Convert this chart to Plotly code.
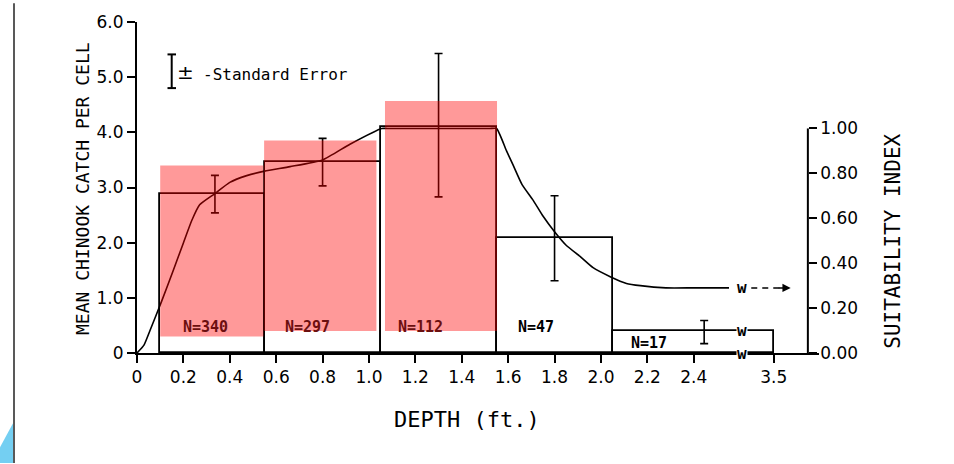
import plotly.graph_objects as go

# ---------------- data ----------------
depth_edges = [0.10, 0.55, 1.05, 1.55, 2.05, 3.5]          # ft (last bin runs to 3.5, broken axis)
mean_catch = [2.89, 3.46, 4.09, 2.08, 0.40]                 # mean chinook catch per cell
n_labels = ["N=340", "N=297", "N=112", "N=47", "N=17"]

se_depth = [0.336, 0.80, 1.30, 1.80, 2.445]
se_center = [2.88, 3.46, 4.13, 2.08, 0.38]
se_value = [0.34, 0.43, 1.30, 0.77, 0.21]

suit_depth = [0, 0.03, 0.056, 0.106, 0.157, 0.20, 0.236, 0.27, 0.336, 0.40, 0.473,
              0.55, 0.66, 0.80, 0.918, 1.055, 1.08, 1.30, 1.52, 1.55, 1.593, 1.62, 1.66,
              1.708, 1.75, 1.80, 1.85, 1.91, 1.966, 2.04, 2.11, 2.17, 2.28, 2.40, 2.56]
suit_index = [0, 0.035, 0.10, 0.23, 0.37, 0.49, 0.59, 0.66, 0.71, 0.76, 0.79,
              0.81, 0.83, 0.86, 0.93, 1.00, 1.00, 1.00, 1.00, 1.00, 0.90, 0.84, 0.75,
              0.68, 0.61, 0.54, 0.48, 0.43, 0.38, 0.34, 0.31, 0.30, 0.29, 0.29, 0.29]

x_tick_depths = [0, 0.2, 0.4, 0.6, 0.8, 1.0, 1.2, 1.4, 1.6, 1.8, 2.0, 2.2, 2.4, 3.5]
x_tick_text = ["0", "0.2", "0.4", "0.6", "0.8", "1.0", "1.2", "1.4", "1.6", "1.8",
               "2.0", "2.2", "2.4", "3.5"]
y_tick_vals = [0, 1, 2, 3, 4, 5, 6]
y_tick_text = ["0", "1.0", "2.0", "3.0", "4.0", "5.0", "6.0"]
y2_tick_vals = [0, 0.2, 0.4, 0.6, 0.8, 1.0]
y2_tick_text = ["0.00", "0.20", "0.40", "0.60", "0.80", "1.00"]

# highlighted (red) regions: [x0, x1, y0, y1] in depth / catch units
highlights = [[0.10, 0.545, 0.30, 3.40],
              [0.548, 1.032, 0.40, 3.85],
              [1.069, 1.552, 0.40, 4.57]]

# ---------------- layout constants ----------------
W, H = 954, 464
ML, MR, MT, MB = 137, 135, 19, 111
PW, PH = W - ML - MR, H - MT - MB
X_MAX = 2.94
RIGHT_AXIS_POS = 2.892
SUIT_SCALE = 4.07          # catch units per 1.0 of suitability index
BREAK_AT, BREAK_POS = 2.55, 2.61


def pos(d):
    """broken depth axis: linear up to 2.55 ft, compressed beyond."""
    if d <= BREAK_AT:
        return d
    return BREAK_AT + (d - BREAK_AT) * (2.745 - BREAK_AT) / (3.5 - BREAK_AT)


def px_x(p):
    return (p - ML) / PW


def px_y(p):
    return (MT + PH - p) / PH


MONO = "DejaVu Sans Mono"
SANS = "DejaVu Sans"

fig = go.Figure()

# histogram bars
lefts = [pos(d) for d in depth_edges[:-1]]
rights = [pos(d) for d in depth_edges[1:]]
fig.add_trace(go.Bar(
    x=[(a + b) / 2 for a, b in zip(lefts, rights)],
    y=mean_catch,
    width=[b - a for a, b in zip(lefts, rights)],
    marker=dict(color="rgba(255,255,255,0)", line=dict(color="black", width=1.8)),
    showlegend=False, hoverinfo="skip",
))

# standard error bars
fig.add_trace(go.Scatter(
    x=[pos(d) for d in se_depth], y=se_center, mode="markers",
    marker=dict(size=1, color="black"),
    error_y=dict(type="data", array=se_value, color="black", thickness=1.6, width=4),
    showlegend=False, hoverinfo="skip",
))

# suitability curve
fig.add_trace(go.Scatter(
    x=[pos(d) for d in suit_depth], y=suit_index, yaxis="y2", mode="lines",
    line=dict(color="black", width=1.6, shape="spline", smoothing=0.5),
    showlegend=False, hoverinfo="skip",
))

shapes = []
# right axis line (0 to 1.00 only)
shapes.append(dict(type="line", xref="paper", yref="y2",
                   x0=RIGHT_AXIS_POS / X_MAX, x1=RIGHT_AXIS_POS / X_MAX, y0=0, y1=1.0,
                   line=dict(color="black", width=2)))
# dashed continuation of curve
tail = suit_index[-1]
shapes.append(dict(type="line", xref="x", yref="y2", x0=2.648, x1=2.79, y0=tail, y1=tail,
                   line=dict(color="black", width=1.5, dash="6px,5px")))
# red highlights
for x0, x1, y0, y1 in highlights:
    shapes.append(dict(type="rect", xref="x", yref="y", x0=x0, x1=x1, y0=y0, y1=y1,
                       fillcolor="rgba(255,0,0,0.4)", line=dict(width=0), layer="above"))
# legend error-bar glyph
gx = px_x(171.7)
shapes.append(dict(type="line", xref="paper", yref="paper", x0=gx, x1=gx,
                   y0=px_y(51.7), y1=px_y(85.7), line=dict(color="black", width=2)))
for yy in (51.7, 85.7):
    shapes.append(dict(type="line", xref="paper", yref="paper", x0=px_x(167.5), x1=px_x(176),
                       y0=px_y(yy), y1=px_y(yy), line=dict(color="black", width=2)))
# scan border & edge
shapes.append(dict(type="path", xref="paper", yref="paper",
                   path=f"M {px_x(0)} {px_y(464)} L {px_x(0)} {px_y(448)} L {px_x(13)} {px_y(424)} "
                        f"L {px_x(13)} {px_y(464)} Z",
                   fillcolor="#74cff2", line=dict(width=0)))
shapes.append(dict(type="line", xref="paper", yref="paper", x0=px_x(14), x1=px_x(14),
                   y0=px_y(0), y1=px_y(464), line=dict(color="#222", width=1.5)))

annotations = []
# N labels
label_x = [0.297, 0.737, 1.222, 1.72, 2.206]
label_y = [0.48, 0.48, 0.48, 0.48, 0.19]
under_red = [True, True, True, False, False]
for t, lx, ly, red in zip(n_labels, label_x, label_y, under_red):
    annotations.append(dict(x=lx, y=ly, xref="x", yref="y", text=f"<b>{t}</b>", showarrow=False,
                            xanchor="center", yanchor="middle",
                            font=dict(family=MONO, size=15, color="#6b0f0f" if red else "black")))
# break marks
for yy, yr in ((tail, "y2"), (mean_catch[-1], "y"), (0, "y")):
    annotations.append(dict(x=BREAK_POS, y=yy, xref="x", yref=yr, text="<b>w</b>",
                            showarrow=False, bgcolor="white", borderpad=0,
                            xanchor="center", yanchor="middle",
                            font=dict(family=MONO, size=16, color="black")))
# arrow head of curve continuation
annotations.append(dict(x=2.818, y=tail, xref="x", yref="y2", ax=2.76, ay=tail,
                        axref="x", ayref="y2", text="", showarrow=True,
                        arrowhead=2, arrowsize=1.1, arrowwidth=1.5, arrowcolor="black"))
# legend text
annotations.append(dict(x=px_x(185), y=px_y(69), xref="paper", yref="paper", text="±",
                        showarrow=False, xanchor="center", yanchor="middle",
                        font=dict(family=SANS, size=20, color="black")))
annotations.append(dict(x=px_x(201), y=px_y(72), xref="paper", yref="paper",
                        text="-Standard Error", showarrow=False, xanchor="left", yanchor="middle",
                        font=dict(family=MONO, size=16, color="black")))
# axis titles
annotations.append(dict(x=px_x(83), y=px_y(187.5), xref="paper", yref="paper",
                        text="MEAN CHINOOK CATCH PER CELL", textangle=-90, showarrow=False,
                        xanchor="center", yanchor="middle",
                        font=dict(family=MONO, size=18, color="black")))
annotations.append(dict(x=px_x(893), y=0.5, xref="paper", yref="y2",
                        text="SUITABILITY INDEX", textangle=-90, showarrow=False,
                        xanchor="center", yanchor="middle",
                        font=dict(family=MONO, size=21, color="black")))
annotations.append(dict(x=px_x(467), y=px_y(420), xref="paper", yref="paper",
                        text="DEPTH (ft.)", showarrow=False, xanchor="center", yanchor="middle",
                        font=dict(family=MONO, size=22, color="black")))

fig.update_layout(
    width=W, height=H, autosize=False,
    margin=dict(l=ML, r=MR, t=MT, b=MB, pad=0),
    paper_bgcolor="white", plot_bgcolor="white",
    showlegend=False, hovermode=False, bargap=0,
    xaxis=dict(range=[0, X_MAX], tickvals=[pos(d) for d in x_tick_depths], ticktext=x_tick_text,
               ticks="outside", ticklen=8, tickwidth=1.5, tickcolor="black",
               showline=True, linecolor="black", linewidth=2, showgrid=False, zeroline=False,
               tickfont=dict(family=SANS, size=17, color="black")),
    yaxis=dict(range=[0, 6.0], tickvals=y_tick_vals, ticktext=y_tick_text,
               ticks="outside", ticklen=8, tickwidth=1.5, tickcolor="black",
               showline=True, linecolor="black", linewidth=2, showgrid=False, zeroline=False,
               tickfont=dict(family=SANS, size=17, color="black")),
    yaxis2=dict(range=[0, 6.0 / SUIT_SCALE], overlaying="y", side="right", anchor="free",
                position=RIGHT_AXIS_POS / X_MAX, tickvals=y2_tick_vals, ticktext=y2_tick_text,
                ticks="outside", ticklen=8, tickwidth=1.8, tickcolor="black",
                showline=False, showgrid=False, zeroline=False,
                tickfont=dict(family=SANS, size=17, color="black")),
    shapes=shapes, annotations=annotations,
)

fig.write_html("out.html")
